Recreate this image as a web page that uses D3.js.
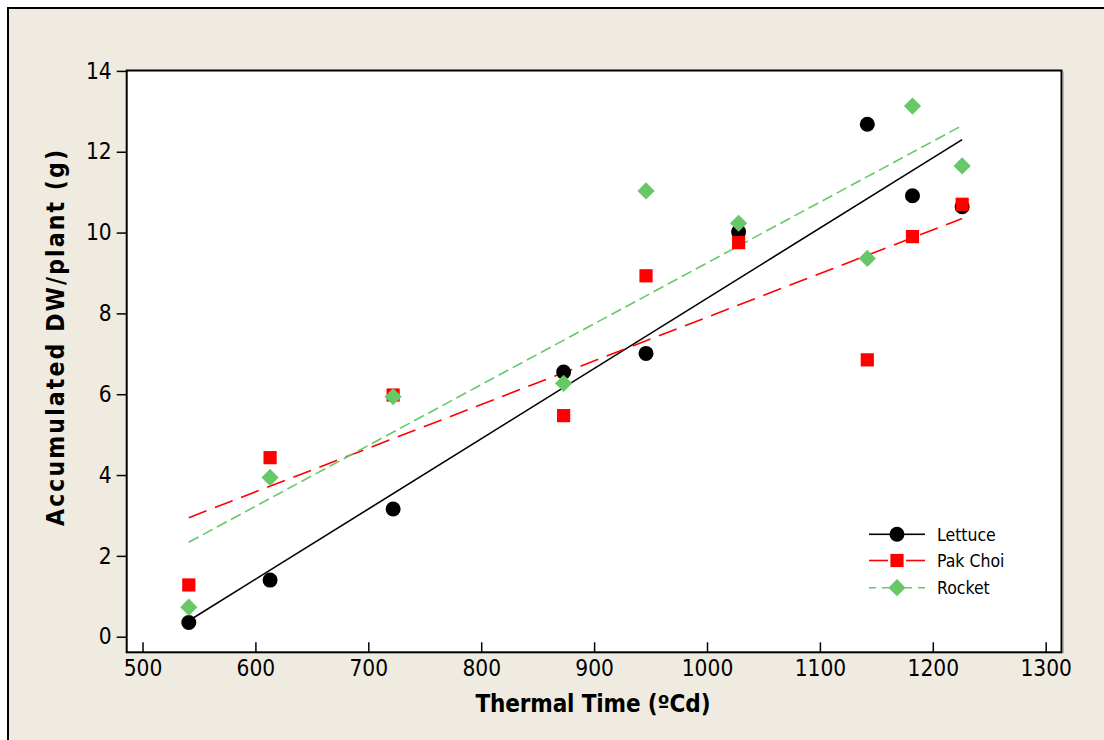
<!DOCTYPE html>
<html>
<head>
<meta charset="utf-8">
<script src="https://cdn.jsdelivr.net/npm/d3@7"></script>
<style>
  html, body { margin: 0; padding: 0; background: #ffffff; }
  svg { display: block; }
  .f { font-family: 'DejaVu Sans Condensed', 'DejaVu Sans', sans-serif; font-stretch: condensed; }
</style>
</head>
<body>
<svg id="chart" width="1104" height="740"></svg>
<script>
// ---- data ----
const thermalTime = [541, 613, 722, 873, 946, 1028, 1142, 1182, 1226];
const lettuce     = [0.35, 1.40, 3.16, 6.55, 7.01, 10.02, 12.68, 10.91, 10.64];
const pakChoi     = [1.28, 4.43, 5.98, 5.47, 8.93, 9.75, 6.85, 9.90, 10.70];
const rocket      = [0.73, 3.94, 5.94, 6.27, 11.03, 10.23, 9.36, 13.13, 11.65];
const seriesNames = ["Lettuce", "Pak Choi", "Rocket"];
const xTicks = [500, 600, 700, 800, 900, 1000, 1100, 1200, 1300];
const yTicks = [0, 2, 4, 6, 8, 10, 12, 14];
const xTitle = "Thermal Time (ºCd)";
const yTitle = "Accumulated DW/plant (g)";

// ---- styles ----
const styles = [
  { color: "#000000", dash: null,   shape: "circle" },
  { color: "#ff0000", dash: "19,9", shape: "square" },
  { color: "#66c866", dash: "11,5", shape: "diamond" }
];
const seriesValues = [lettuce, pakChoi, rocket];

const svg = d3.select("#chart");
const W = 1104, H = 740;
const plot = { left: 126.7, right: 1061.5, top: 70.5, bottom: 652.3 };

// outer background + frame
svg.append("rect").attr("x", 8).attr("y", 8).attr("width", W + 10).attr("height", H + 10)
  .attr("fill", "#efebe1").attr("stroke", "#000").attr("stroke-width", 2);

// plot area
svg.append("rect").attr("x", plot.left).attr("y", plot.top)
  .attr("width", plot.right - plot.left).attr("height", plot.bottom - plot.top)
  .attr("fill", "#ffffff");

const x = d3.scaleLinear().domain([486, 1314]).range([plot.left, plot.right]);
const y = d3.scaleLinear().domain([-0.386, 14.01]).range([plot.bottom, plot.top]);

// regression helper
function linReg(xs, ys) {
  const n = xs.length;
  const mx = d3.mean(xs), my = d3.mean(ys);
  let sxy = 0, sxx = 0;
  for (let i = 0; i < n; i++) { sxy += (xs[i] - mx) * (ys[i] - my); sxx += (xs[i] - mx) ** 2; }
  const b = sxy / sxx, a = my - b * mx;
  return v => a + b * v;
}

const xMin = d3.min(thermalTime), xMax = d3.max(thermalTime);
const lineGen = d3.line().x(d => x(d[0])).y(d => y(d[1]));

// fitted lines
seriesValues.forEach((vals, i) => {
  const f = linReg(thermalTime, vals);
  svg.append("path")
    .attr("d", lineGen([[xMin, f(xMin)], [xMax, f(xMax)]]))
    .attr("fill", "none")
    .attr("stroke", styles[i].color)
    .attr("stroke-width", 1.6)
    .attr("stroke-dasharray", styles[i].dash);
});

// symbols
function drawSymbol(g, shape, cx, cy, color) {
  if (shape === "circle") {
    g.append("circle").attr("cx", cx).attr("cy", cy).attr("r", 7.5).attr("fill", color);
  } else if (shape === "square") {
    g.append("rect").attr("x", cx - 6.6).attr("y", cy - 6.6).attr("width", 13.2).attr("height", 13.2).attr("fill", color);
  } else {
    const r = 8.6;
    g.append("path").attr("d", `M${cx},${cy - r}L${cx + r},${cy}L${cx},${cy + r}L${cx - r},${cy}Z`).attr("fill", color);
  }
}
seriesValues.forEach((vals, i) => {
  const g = svg.append("g");
  vals.forEach((v, j) => drawSymbol(g, styles[i].shape, x(thermalTime[j]), y(v), styles[i].color));
});

// axes
const yAxis = d3.axisLeft(y).tickValues(yTicks).tickSize(10).tickPadding(5).tickFormat(d3.format("d"));
const gy = svg.append("g").attr("transform", `translate(${plot.left},0)`).call(yAxis);
const xAxis = d3.axisBottom(x).tickValues(xTicks).tickSize(-10).tickPadding(9).tickFormat(d3.format("d"));
const gx = svg.append("g").attr("transform", `translate(0,${plot.bottom})`).call(xAxis);
[gx, gy].forEach(g => {
  g.select(".domain").remove();
  g.selectAll(".tick line").attr("stroke", "#000").attr("stroke-width", 1.5);
  g.selectAll(".tick text").attr("class", "f").attr("fill", "#000").style("font-size", "22.5px");
});
gx.selectAll(".tick text").attr("y", 8);

// plot frame
svg.append("rect").attr("x", plot.left).attr("y", plot.top)
  .attr("width", plot.right - plot.left).attr("height", plot.bottom - plot.top)
  .attr("fill", "none").attr("stroke", "#000").attr("stroke-width", 2);
svg.append("line").attr("x1", plot.right + 1.7).attr("x2", plot.right + 1.7)
  .attr("y1", plot.top + 1).attr("y2", plot.bottom + 1)
  .attr("stroke", "#9a9a9a").attr("stroke-width", 1);

// titles
svg.append("text").attr("class", "f").attr("x", 593).attr("y", 712)
  .attr("text-anchor", "middle").style("font-size", "24px").style("font-weight", "bold")
  .attr("textLength", 235).attr("lengthAdjust", "spacing")
  .text(xTitle);
svg.append("text").attr("class", "f")
  .attr("transform", "translate(64,338) rotate(-90)")
  .attr("text-anchor", "middle").style("font-size", "24.5px").style("font-weight", "bold")
  .attr("textLength", 376).attr("lengthAdjust", "spacing")
  .text(yTitle);

// legend
const legend = svg.append("g");
const legY = [534.3, 560.5, 587.7];
seriesNames.forEach((name, i) => {
  const ly = legY[i];
  [[869, 890], [925, 904]].forEach(seg => {
    legend.append("line").attr("x1", seg[0]).attr("x2", seg[1]).attr("y1", ly).attr("y2", ly)
      .attr("stroke", styles[i].color).attr("stroke-width", 1.6)
      .attr("stroke-dasharray", styles[i].dash ? (i === 2 ? "7,6" : styles[i].dash) : null);
  });
  drawSymbol(legend, styles[i].shape, 897, ly, styles[i].color);
  legend.append("text").attr("class", "f").attr("x", 937).attr("y", ly).attr("dy", "0.36em")
    .style("font-size", "17.5px").attr("fill", "#000").text(name);
});
</script>
</body>
</html>
